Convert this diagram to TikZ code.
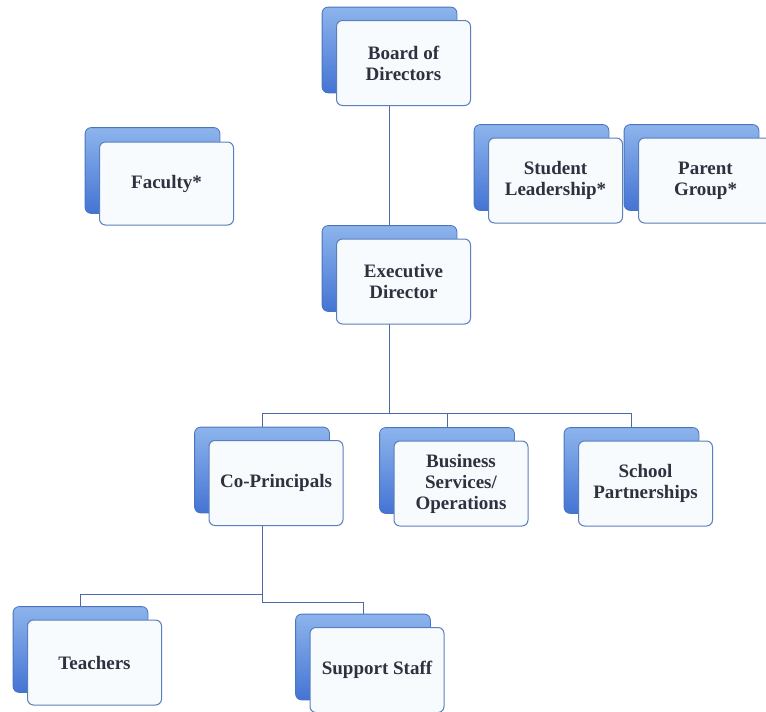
\documentclass[tikz,border=0pt]{standalone}
\usepackage{fontspec}
\setmainfont{Liberation Serif}
\usetikzlibrary{positioning}
\definecolor{txtc}{HTML}{30303F}
\definecolor{linec}{HTML}{4A6AA8}
\definecolor{backdraw}{HTML}{4A73C0}
\definecolor{backtop}{HTML}{8DB4EC}
\definecolor{backbot}{HTML}{4474D4}
\definecolor{frontfill}{HTML}{F8FBFE}
\definecolor{frontdraw}{HTML}{5A7FBF}
\tikzset{
  backcard/.style={draw=backdraw, line width=0.8pt, rounded corners=6pt,
    top color=backtop, bottom color=backbot, minimum width=134pt, minimum height=85pt, inner sep=0pt},
  frontcard/.style={draw=frontdraw, line width=1pt, rounded corners=6pt, fill=frontfill,
    minimum width=134pt, minimum height=85pt, inner sep=2pt, align=center, text=txtc,
    font=\fontsize{19}{21}\selectfont\bfseries},
  conn/.style={draw=linec, line width=0.9pt}
}
\begin{document}
\begin{tikzpicture}[x=1pt,y=-1pt]
\useasboundingbox (0,0) rectangle (766,712);
% back cards (positions)
\node[backcard] (bb) at (389.5,50) {};
\node[backcard] (fb) at (152.5,170.5) {};
\node[backcard] (slb) at (541.5,167.5) {};
\node[backcard] (pgb) at (691.5,167.5) {};
\node[backcard] (eb) at (389.5,268.5) {};
\node[backcard] (cb) at (262,470) {};
\node[backcard] (bsb) at (447,470.5) {};
\node[backcard] (sb) at (631.5,470.5) {};
\node[backcard] (tb) at (80.5,649.5) {};
\node[backcard] (ssb) at (363,657) {};
% connectors
\path (eb.south) ++(0,102) coordinate (j1);
\path (cb.south) ++(0,81.5) coordinate (j2);
\path (j2) ++(0,8) coordinate (j3);
\draw[conn] (bb.south) -- (eb.north);
\draw[conn] (eb.south) -- (j1) -| (cb.north);
\draw[conn] (j1) -| (bsb.north);
\draw[conn] (j1) -| (sb.north);
\draw[conn] (cb.south) -- (j2) -| (tb.north);
\draw[conn] (j2) -- (j3) -| (ssb.north);
% redraw back cards over connectors
\foreach \n in {bb,fb,slb,pgb,eb,cb,bsb,sb,tb,ssb}{
  \path[draw=backdraw, line width=0.8pt, rounded corners=6pt, top color=backtop, bottom color=backbot]
    (\n.north west) rectangle (\n.south east);
}
% front cards
\node[frontcard] (b) at (403.5,63) {Board of\\Directors};
\node[frontcard, minimum height=83pt] (f) at (166.5,183.5) {Faculty*};
\node[frontcard] (sl) at (555.5,180.5) {Student\\Leadership*};
\node[frontcard] (pg) at (705.5,180.5) {Parent\\Group*};
\node[frontcard] (e) at (403.5,281.5) {Executive\\Director};
\node[frontcard] (c) at (276,483) {Co-Principals};
\node[frontcard] (bs) at (461,483.5) {Business\\Services/\\Operations};
\node[frontcard] (s) at (645.5,483.5) {School\\Partnerships};
\node[frontcard] (t) at (94.5,662.5) {Teachers};
\node[frontcard] (ss) at (377,670) {Support Staff};
\end{tikzpicture}
\end{document}
